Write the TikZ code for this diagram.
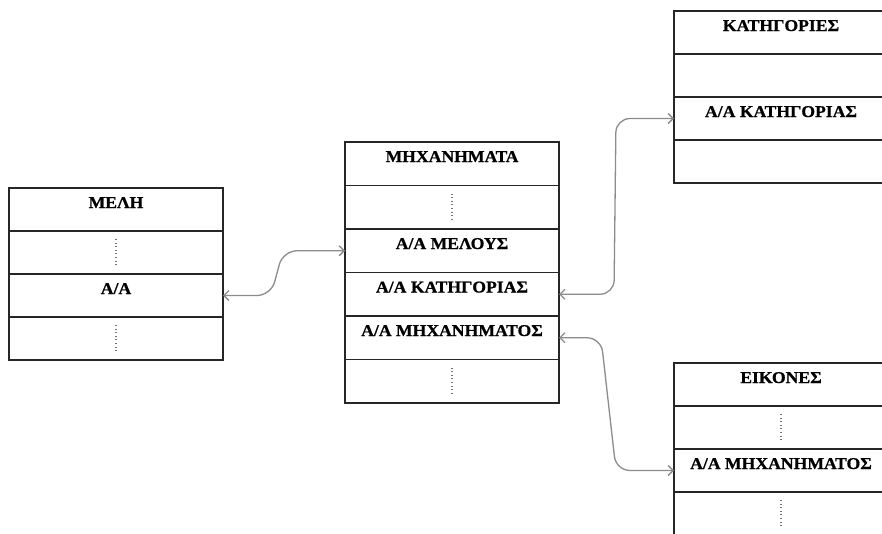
\documentclass[tikz,border=0pt]{standalone}
\usepackage{fontspec}
\setmainfont{Liberation Serif}[BoldFeatures={FakeStretch=1.07,FakeBold=0.8}]
\usetikzlibrary{arrows.meta}
\begin{document}
\begin{tikzpicture}[x=1pt,y=-1pt,
  cell/.style={draw=black!85, line width=1.4pt, minimum width=214pt, minimum height=#1,
    inner sep=0pt, outer sep=0pt, text height=20pt, text depth=#1-20pt,
    font=\bfseries\fontsize{16.5}{17}\selectfont, anchor=north west},
  cell/.default=43pt,
  dots/.style={draw=black!55, line width=1.3pt, dash pattern=on 1pt off 2.6pt},
  conn/.style={draw=black!45, line width=1.3pt, rounded corners=14pt,
    {Straight Barb[length=5pt,width=10pt]}-{Straight Barb[length=5pt,width=10pt]}}
]
\useasboundingbox (0,0) rectangle (882,533);
\clip (0,0) rectangle (882,533);
\fill[white] (0,0) rectangle (882,533);

% MELH
\node[cell] (l1) at (9,188) {ΜΕΛΗ};
\node[cell] (l2) at (9,231) {};
\node[cell] (l3) at (9,274) {Α/Α};
\node[cell] (l4) at (9,317) {};

% MHXANHMATA
\node[cell=43.5pt] (m1) at (345,142) {ΜΗΧΑΝΗΜΑΤΑ};
\node[cell=43.5pt] (m2) at (345,185.5) {};
\node[cell=43.5pt] (m3) at (345,229) {Α/Α ΜΕΛΟΥΣ};
\node[cell=43.5pt] (m4) at (345,272.5) {Α/Α ΚΑΤΗΓΟΡΙΑΣ};
\node[cell=43.5pt] (m5) at (345,316) {Α/Α ΜΗΧΑΝΗΜΑΤΟΣ};
\node[cell=43.5pt] (m6) at (345,359.5) {};

% KATHGORIES
\node[cell] (r1) at (674,11) {ΚΑΤΗΓΟΡΙΕΣ};
\node[cell] (r2) at (674,54) {};
\node[cell] (r3) at (674,97) {Α/Α ΚΑΤΗΓΟΡΙΑΣ};
\node[cell] (r4) at (674,140) {};

% EIKONES
\node[cell] (b1) at (674,363) {ΕΙΚΟΝΕΣ};
\node[cell] (b2) at (674,406) {};
\node[cell] (b3) at (674,449) {Α/Α ΜΗΧΑΝΗΜΑΤΟΣ};
\node[cell] (b4) at (674,492) {};

% dotted rows
\foreach \c in {l2,l4,m2,m6,b2,b4}
  \draw[dots] ([yshift=-8pt]\c.north) -- ([yshift=-34pt]\c.north);

% connectors
\draw[conn] (l3.east) -- ([xshift=48pt]l3.east) -- ([xshift=-62pt]m3.west) -- (m3.west);
\draw[conn] (m4.east) -- ([xshift=55pt]m4.east) -- ([xshift=-58pt]r3.west) -- (r3.west);
\draw[conn] (m5.east) -- ([xshift=42pt]m5.east) -- ([xshift=-58pt]b3.west) -- (b3.west);
\end{tikzpicture}
\end{document}
